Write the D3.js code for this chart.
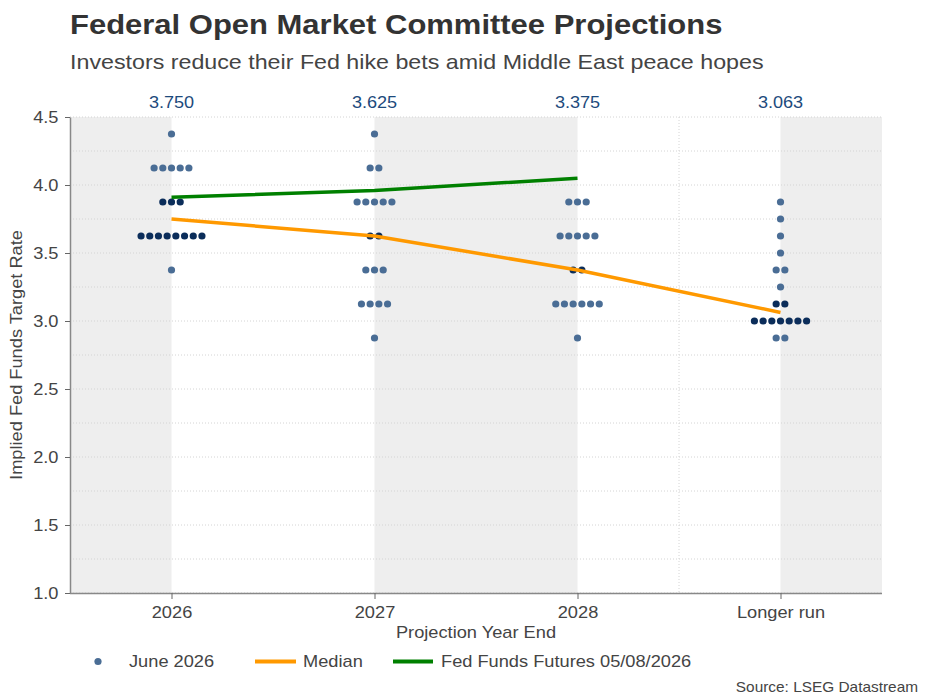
<!DOCTYPE html>
<html><head><meta charset="utf-8">
<script src="https://cdn.jsdelivr.net/npm/d3@7"></script>
<style>body{margin:0;background:#fff;font-family:"Liberation Sans",Arial,sans-serif;}</style>
</head><body><svg id="c" width="930" height="698"></svg>
<script>
const categories = ["2026","2027","2028","Longer run"];
const medians = [3.750, 3.625, 3.375, 3.063];
const medianLabels = ["3.750","3.625","3.375","3.063"];
const futuresCats = ["2026","2027","2028"];
const futures = [3.91, 3.96, 4.05];
// dot plot rows per category: [rate, count, nearMedian]
const dots2026 = [[4.375,1,0],[4.125,5,0],[3.875,3,1],[3.625,8,1],[3.375,1,0]];
const dots2027 = [[4.375,1,0],[4.125,2,0],[3.875,5,0],[3.625,2,1],[3.375,3,0],[3.125,4,0],[2.875,1,0]];
const dots2028 = [[3.875,3,0],[3.625,5,0],[3.375,2,1],[3.125,6,0],[2.875,1,0]];
const dotsLonger = [[3.875,1,0],[3.75,1,0],[3.625,1,0],[3.5,1,0],[3.375,2,0],[3.25,1,0],[3.125,2,1],[3.0,7,1],[2.875,2,0]];
const dotSets = [dots2026, dots2027, dots2028, dotsLonger];
const yTicks = [1.0,1.5,2.0,2.5,3.0,3.5,4.0,4.5];
const yGrid = d3.range(1.0, 4.51, 0.25);

const FONT = "Liberation Sans, Arial, sans-serif";
const SX = 1.14;
const svg = d3.select("#c");
const L = 70, R = 882, T = 117, B = 593;
const x = d3.scalePoint().domain(categories).range([L, R]).padding(0.5);
const y = d3.scaleLinear().domain([1.0, 4.5]).range([B, T]);
const step = x.step();

function txt(parent, px, py, s, o = {}) {
  return parent.append("text")
    .attr("transform", `translate(${px},${py})${o.rot ? " rotate(" + o.rot + ")" : ""} scale(${o.sx || SX},1)`)
    .attr("font-family", FONT).attr("font-size", o.size || 16)
    .attr("font-weight", o.bold ? "bold" : null)
    .attr("text-anchor", o.anchor || "start")
    .attr("fill", o.fill || "#444").text(s);
}

// shaded bands
const bands = [[L, x("2026")], [x("2027"), x("2028")], [x("Longer run"), R]];
svg.selectAll("rect.band").data(bands).join("rect")
  .attr("x", d => d[0]).attr("y", T).attr("width", d => d[1]-d[0]).attr("height", B-T)
  .attr("fill", "#eeeeee");

// grid
svg.selectAll("line.hg").data(yGrid).join("line")
  .attr("x1", L).attr("x2", R).attr("y1", d => y(d)).attr("y2", d => y(d))
  .attr("stroke", "#d4d4d4").attr("stroke-width", 1).attr("stroke-dasharray", "1,2");
svg.append("line").attr("x1", x("2028")+step/2).attr("x2", x("2028")+step/2)
  .attr("y1", T).attr("y2", B).attr("stroke", "#d4d4d4").attr("stroke-dasharray", "1,2");

// axes
const yAxis = svg.append("g").attr("transform", `translate(${L},0)`)
  .call(d3.axisLeft(y).tickValues(yTicks).tickFormat(d3.format(".1f")).tickSize(5).tickSizeOuter(0));
const xAxis = svg.append("g").attr("transform", `translate(0,${B})`)
  .call(d3.axisBottom(x).tickSize(6).tickSizeOuter(0));
[yAxis, xAxis].forEach(g => {
  g.select(".domain").attr("stroke", "#888").attr("stroke-width", 1.5);
  g.selectAll(".tick line").attr("stroke", "#666");
  g.selectAll("text").attr("fill", "#444").attr("font-size", 16).attr("font-family", FONT)
    .attr("transform", `scale(${SX},1)`);
});
xAxis.select(".domain").attr("d", `M${L},0.5H${R}`);
yAxis.selectAll("text").attr("x", -11.5/SX);
xAxis.selectAll("text").attr("y", 14);

// dots
const sp = 8.7;
dotSets.forEach((rows, i) => {
  const cx = x(categories[i]);
  const pts = [];
  rows.forEach(([rate, n, dark]) => {
    for (let k = 0; k < n; k++) pts.push({x: cx + (k - (n-1)/2)*sp, y: y(rate), dark});
  });
  svg.append("g").selectAll("circle").data(pts).join("circle")
    .attr("cx", d => d.x).attr("cy", d => d.y).attr("r", 3.6)
    .attr("fill", d => d.dark ? "#0b2d5a" : "#4a6d95");
});

// lines
const line = d3.line().x(d => x(d[0])).y(d => y(d[1]));
svg.append("path").datum(categories.map((c,i)=>[c, medians[i]]))
  .attr("d", line).attr("fill","none").attr("stroke","#ff9900").attr("stroke-width",3.5);
svg.append("path").datum(futuresCats.map((c,i)=>[c, futures[i]]))
  .attr("d", line).attr("fill","none").attr("stroke","#008000").attr("stroke-width",3.5);

// top median labels
categories.forEach((c, i) => txt(svg, x(c), 108, medianLabels[i], {anchor: "middle", fill: "#1d4a7c", sx: 1.13}));

// titles
txt(svg, 70, 34, "Federal Open Market Committee Projections", {size: 27, bold: true, fill: "#333", sx: 1.148});
txt(svg, 70, 69, "Investors reduce their Fed hike bets amid Middle East peace hopes", {size: 21, sx: 1.107});

// axis titles
txt(svg, (L+R)/2, 638, "Projection Year End", {anchor: "middle"});
txt(svg, 22, (T+B)/2, "Implied Fed Funds Target Rate", {anchor: "middle", rot: -90});

// legend
const lg = svg.append("g");
lg.append("circle").attr("cx", 98).attr("cy", 661.5).attr("r", 3.6).attr("fill", "#4a6d95");
txt(lg, 129, 667, "June 2026");
lg.append("line").attr("x1",255).attr("x2",296).attr("y1",661.5).attr("y2",661.5).attr("stroke","#ff9900").attr("stroke-width",4);
txt(lg, 303, 667, "Median");
lg.append("line").attr("x1",393).attr("x2",433).attr("y1",661.5).attr("y2",661.5).attr("stroke","#008000").attr("stroke-width",4);
txt(lg, 441, 667, "Fed Funds Futures 05/08/2026");

txt(svg, 918, 692, "Source: LSEG Datastream", {anchor: "end", size: 14, sx: 1.10});
</script></body></html>
